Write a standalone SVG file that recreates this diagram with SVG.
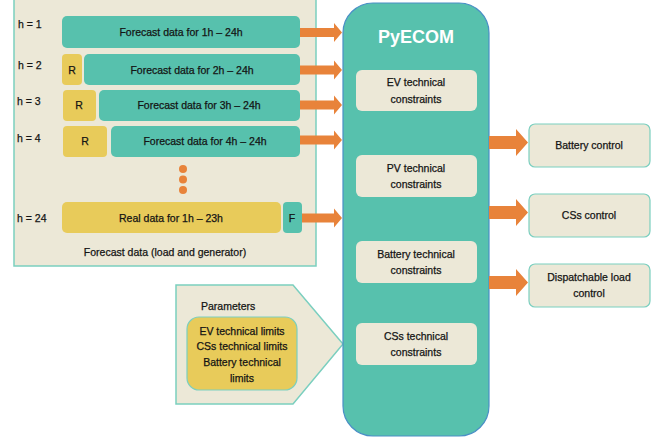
<svg xmlns="http://www.w3.org/2000/svg" width="667" height="437" viewBox="0 0 667 437">
<style>
text{font-family:"Liberation Sans",Arial,sans-serif;font-size:10.5px;fill:#141414;stroke:#141414;stroke-width:0.25;text-anchor:middle;dominant-baseline:central}
.lbl{text-anchor:start}
.teal{fill:#57C1AD}
.yel{fill:#E8CB5A}
.arrow{fill:#E8833A}
.panel{fill:#ECE8D7;stroke:#7BCFBF;stroke-width:1.5}
.inner{fill:#ECE8D7}
.out{fill:#ECE8D7;stroke:#7BCFBF;stroke-width:1.2}
.title{fill:#ffffff;stroke:none;font-size:18px;font-weight:bold}
</style>
<rect width="667" height="437" fill="#ffffff"/>
<g id="forecast-panel">
<rect class="panel" x="14" y="-2" width="302" height="268"/>
<text x="165" y="252">Forecast data (load and generator)</text>
</g>
<g id="row1">
<text class="lbl" x="18" y="24">h = 1</text>
<rect class="teal" x="62" y="16" width="238" height="32" rx="5"/>
<text x="181" y="32">Forecast data for 1h – 24h</text>
</g>
<g id="row2">
<text class="lbl" x="18" y="65">h = 2</text>
<rect class="yel" x="62" y="54" width="20" height="31" rx="4"/>
<text x="72" y="70">R</text>
<rect class="teal" x="84" y="54" width="216" height="31" rx="5"/>
<text x="192" y="70">Forecast data for 2h – 24h</text>
</g>
<g id="row3">
<text class="lbl" x="17" y="101">h = 3</text>
<rect class="yel" x="63" y="90" width="33" height="31" rx="4"/>
<text x="79" y="105">R</text>
<rect class="teal" x="99" y="90" width="201" height="31" rx="5"/>
<text x="199" y="105">Forecast data for 3h – 24h</text>
</g>
<g id="row4">
<text class="lbl" x="17" y="138">h = 4</text>
<rect class="yel" x="63" y="126" width="44" height="31" rx="4"/>
<text x="85" y="141">R</text>
<rect class="teal" x="111" y="126" width="189" height="31" rx="5"/>
<text x="205" y="141">Forecast data for 4h – 24h</text>
</g>
<g id="dots">
<circle class="arrow" cx="183" cy="169" r="4"/>
<circle class="arrow" cx="183" cy="179.5" r="4"/>
<circle class="arrow" cx="183" cy="190" r="4"/>
</g>
<g id="row24">
<text class="lbl" x="17" y="218">h = 24</text>
<rect class="yel" x="62" y="202" width="219" height="31" rx="5"/>
<text x="171" y="218">Real data for 1h – 23h</text>
<rect class="teal" x="283" y="202" width="19" height="31" rx="4"/>
<text x="292" y="218">F</text>
</g>
<g id="parameters">
<polygon class="panel" points="176,285 293,285 343,344 293,404 176,404"/>
<text class="lbl" x="201" y="306">Parameters</text>
<rect x="187" y="317" width="110" height="73" rx="12" fill="#E8CB5A" stroke="#7BCFBF" stroke-width="1.2"/>
<text x="242" y="331">EV technical limits</text>
<text x="242" y="346">CSs technical limits</text>
<text x="242" y="362">Battery technical</text>
<text x="242" y="378">limits</text>
</g>
<g id="pyecom">
<rect x="343" y="3" width="146" height="433" rx="30" fill="#57C1AD" stroke="#4A8FC6" stroke-width="1.2"/>
<text class="title" x="416" y="37">PyECOM</text>
<rect class="inner" x="356" y="70" width="121" height="41" rx="6"/>
<text x="416" y="82">EV technical</text>
<text x="416" y="99">constraints</text>
<rect class="inner" x="356" y="155" width="121" height="42" rx="6"/>
<text x="416" y="168">PV technical</text>
<text x="416" y="184">constraints</text>
<rect class="inner" x="356" y="241" width="121" height="42" rx="6"/>
<text x="416" y="254">Battery technical</text>
<text x="416" y="270">constraints</text>
<rect class="inner" x="356" y="323" width="121" height="42" rx="6"/>
<text x="416" y="336">CSs technical</text>
<text x="416" y="352">constraints</text>
</g>
<g id="battery-control">
<rect class="out" x="529" y="124" width="121" height="43" rx="6"/>
<text x="589" y="145">Battery control</text>
</g>
<g id="css-control">
<rect class="out" x="529" y="194" width="121" height="43" rx="6"/>
<text x="589" y="215">CSs control</text>
</g>
<g id="dispatchable-control">
<rect class="out" x="529" y="264" width="121" height="43" rx="6"/>
<text x="589" y="277">Dispatchable load</text>
<text x="589" y="293">control</text>
</g>
<g id="connectors">
<polygon class="arrow" points="300,28 334,28 334,23 342,32.5 334,42 334,37 300,37"/>
<polygon class="arrow" points="300,65.5 334,65.5 334,60.5 342,70 334,79.5 334,74.5 300,74.5"/>
<polygon class="arrow" points="300,100.5 334,100.5 334,95.5 342,105 334,114.5 334,109.5 300,109.5"/>
<polygon class="arrow" points="300,135.5 334,135.5 334,130.5 342,140 334,149.5 334,144.5 300,144.5"/>
<polygon class="arrow" points="302,213.5 334,213.5 334,208.5 342,218 334,227.5 334,222.5 302,222.5"/>
<polygon class="arrow" points="489,136 516,136 516,129 528,142.5 516,156 516,149 489,149"/>
<polygon class="arrow" points="489,206 516,206 516,199 528,212.5 516,226 516,219 489,219"/>
<polygon class="arrow" points="489,276 516,276 516,269 528,282.5 516,296 516,289 489,289"/>
</g>
</svg>
